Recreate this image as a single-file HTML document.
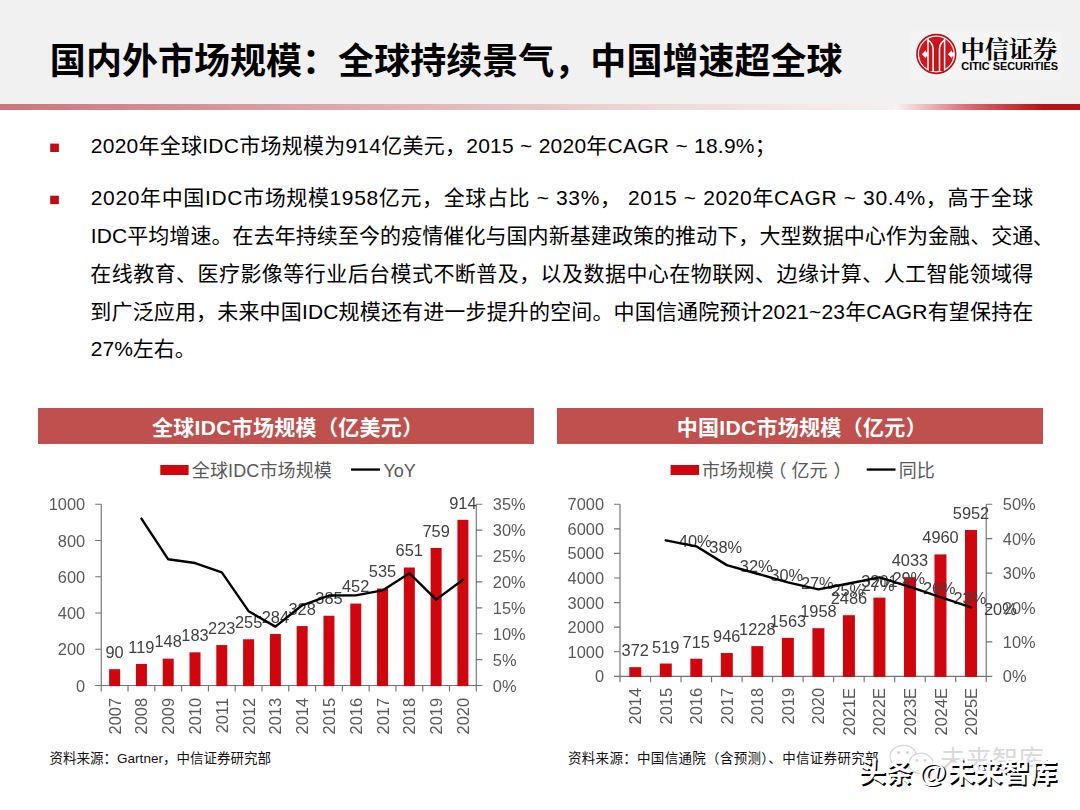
<!DOCTYPE html>
<html lang="zh"><head><meta charset="utf-8"><title>IDC</title><style>
html,body{margin:0;padding:0;background:#fff;overflow:hidden}
body{width:1080px;height:810px;font-family:"Liberation Sans",sans-serif}
#pg{position:relative;width:1080px;height:810px;overflow:hidden;background:#fff}
#hd{position:absolute;left:0;top:0;width:1080px;height:104px;background:#f2f1f1}
#ln1{position:absolute;left:0;top:104px;width:895px;height:6px;background:linear-gradient(90deg,#c9757b 0%,#d69a9d 27%,#e4bcbe 52%,#f0dcdc 77%,#f7f0f0 100%)}
#ln2{position:absolute;left:895px;top:104px;width:185px;height:6px;background:linear-gradient(90deg,#fbf3f3 0%,#d86a70 40%,#b81218 80%,#b81218 100%)}
svg{position:absolute;left:0;top:0}
svg text{font-family:"Liberation Sans","Noto Sans CJK SC",sans-serif}
#lb{position:absolute;left:0;top:0;width:1080px;height:810px;will-change:transform}
.t{position:absolute;white-space:nowrap;line-height:1.2;color:transparent;overflow:hidden;height:1.2em;max-width:940px}
.al,.ar,.dl,.ll,.xc{position:absolute;font-size:16.4px;line-height:20px;height:20px;white-space:nowrap;color:#595959}
.al{width:60px;text-align:right}
.ar{text-align:left}
.dl{width:60px;text-align:center;color:#404040}
.ll{text-align:left;color:#404040}
.xc{transform-origin:0 0;transform:rotate(-90deg) translate(-100%,-50%);text-align:right}
</style></head><body>
<div id="pg">
<div id="hd"></div><div id="ln1"></div><div id="ln2"></div>
<svg width="1080" height="810" viewBox="0 0 1080 810">
<text x="49.86" y="74.21" font-size="36" font-weight="bold" fill="#000" textLength="792.7" lengthAdjust="spacing">国内外市场规模：全球持续景气，中国增速超全球</text>
<text x="90.8" y="153.4" font-size="21" fill="#000" textLength="685" lengthAdjust="spacing">2020年全球IDC市场规模为914亿美元，2015 ~ 2020年CAGR ~ 18.9%；</text>
<text x="90.8" y="205.2" font-size="21" fill="#000" textLength="942.5" lengthAdjust="spacing">2020年中国IDC市场规模1958亿元，全球占比 ~ 33%， 2015 ~ 2020年CAGR ~ 30.4%，高于全球</text>
<text x="90.8" y="243.2" font-size="21" fill="#000" textLength="942.5" lengthAdjust="spacing">IDC平均增速。在去年持续至今的疫情催化与国内新基建政策的推动下，大型数据中心作为金融、交通</text>
<text x="1032.8" y="243.6" font-size="21" fill="#000">、</text>
<text x="90.33" y="281.4" font-size="21" fill="#000" textLength="943" lengthAdjust="spacing">在线教育、医疗影像等行业后台模式不断普及，以及数据中心在物联网、边缘计算、人工智能领域得</text>
<text x="90.33" y="319.1" font-size="21" fill="#000" textLength="943" lengthAdjust="spacing">到广泛应用，未来中国IDC规模还有进一步提升的空间。中国信通院预计2021~23年CAGR有望保持在</text>
<text x="90.8" y="356.4" font-size="21" fill="#000">27%左右。</text>
<rect x="50.2" y="143.6" width="8.7" height="8.4" fill="#c00d14"/>
<rect x="50.2" y="195.7" width="8.7" height="8.4" fill="#c00d14"/>
<rect x="38" y="408" width="496" height="36" fill="#c0504d"/>
<rect x="557" y="408" width="486" height="36" fill="#c0504d"/>
<text x="151.89" y="435.2" font-size="21" font-weight="bold" fill="#fff" textLength="271.3" lengthAdjust="spacing">全球IDC市场规模（亿美元）</text>
<text x="676.64" y="435.2" font-size="21" font-weight="bold" fill="#fff" textLength="250" lengthAdjust="spacing">中国IDC市场规模（亿元）</text>
<rect x="160.3" y="465" width="28.3" height="10" fill="#d0060f"/>
<text x="191.77" y="476.8" font-size="18" fill="#595959" textLength="140" lengthAdjust="spacing">全球IDC市场规模</text>
<rect x="351" y="468.4" width="29" height="2.3" fill="#000"/>
<text x="383.5" y="476.8" font-size="18" fill="#595959">YoY</text>
<rect x="670.6" y="465" width="28.5" height="10" fill="#d0060f"/>
<text x="701.77" y="476.8" font-size="18" fill="#595959" textLength="72" lengthAdjust="spacing">市场规模</text>
<text x="768.5" y="476.8" font-size="18" fill="#595959">（</text>
<text x="791.57" y="476.8" font-size="18" fill="#595959" textLength="36" lengthAdjust="spacing">亿元</text>
<text x="833.5" y="476.8" font-size="18" fill="#595959">）</text>
<rect x="866.7" y="468.4" width="28.8" height="2.3" fill="#000"/>
<text x="898.67" y="476.8" font-size="18" fill="#595959" textLength="36" lengthAdjust="spacing">同比</text>
<text x="49.6" y="763" font-size="13.5" fill="#111" textLength="221.3" lengthAdjust="spacing">资料来源：Gartner，中信证券研究部</text>
<text x="568" y="763" font-size="13.5" fill="#111" textLength="310.5" lengthAdjust="spacing">资料来源：中国信通院（含预测）、中信证券研究部</text>
<path d="M101.25 504.25V685.50M476.30 504.25V685.50M95.25 685.50H482.30M101.25 649.25h-6M101.25 613.00h-6M101.25 576.75h-6M101.25 540.50h-6M101.25 504.25h-6M476.30 659.61h6M476.30 633.71h6M476.30 607.82h6M476.30 581.93h6M476.30 556.04h6M476.30 530.14h6M476.30 504.25h6M101.25 685.50v6M128.04 685.50v6M154.83 685.50v6M181.62 685.50v6M208.41 685.50v6M235.20 685.50v6M261.99 685.50v6M288.77 685.50v6M315.56 685.50v6M342.35 685.50v6M369.14 685.50v6M395.93 685.50v6M422.72 685.50v6M449.51 685.50v6M476.30 685.50v6" stroke="#737373" stroke-width="1.15" fill="none"/>
<rect x="109.14" y="669.19" width="11.00" height="16.91" fill="#d0060f"/>
<rect x="135.93" y="663.93" width="11.00" height="22.17" fill="#d0060f"/>
<rect x="162.72" y="658.67" width="11.00" height="27.43" fill="#d0060f"/>
<rect x="189.51" y="652.33" width="11.00" height="33.77" fill="#d0060f"/>
<rect x="216.30" y="645.08" width="11.00" height="41.02" fill="#d0060f"/>
<rect x="243.09" y="639.28" width="11.00" height="46.82" fill="#d0060f"/>
<rect x="269.88" y="634.02" width="11.00" height="52.08" fill="#d0060f"/>
<rect x="296.67" y="626.05" width="11.00" height="60.05" fill="#d0060f"/>
<rect x="323.46" y="615.72" width="11.00" height="70.38" fill="#d0060f"/>
<rect x="350.25" y="603.58" width="11.00" height="82.52" fill="#d0060f"/>
<rect x="377.04" y="588.53" width="11.00" height="97.57" fill="#d0060f"/>
<rect x="403.83" y="567.51" width="11.00" height="118.59" fill="#d0060f"/>
<rect x="430.62" y="547.93" width="11.00" height="138.17" fill="#d0060f"/>
<rect x="457.41" y="519.84" width="11.00" height="166.26" fill="#d0060f"/>
<path d="M620.00 504.25V676.30M986.25 504.25V676.30M614.00 676.30H992.25M620.00 651.72h-6M620.00 627.14h-6M620.00 602.56h-6M620.00 577.99h-6M620.00 553.41h-6M620.00 528.83h-6M620.00 504.25h-6M986.25 641.89h6M986.25 607.48h6M986.25 573.07h6M986.25 538.66h6M986.25 504.25h6M620.00 676.30v6M650.52 676.30v6M681.04 676.30v6M711.56 676.30v6M742.08 676.30v6M772.60 676.30v6M803.12 676.30v6M833.65 676.30v6M864.17 676.30v6M894.69 676.30v6M925.21 676.30v6M955.73 676.30v6M986.25 676.30v6" stroke="#737373" stroke-width="1.15" fill="none"/>
<rect x="629.26" y="667.16" width="12.00" height="9.74" fill="#d0060f"/>
<rect x="659.78" y="663.54" width="12.00" height="13.36" fill="#d0060f"/>
<rect x="690.30" y="658.73" width="12.00" height="18.17" fill="#d0060f"/>
<rect x="720.82" y="653.05" width="12.00" height="23.85" fill="#d0060f"/>
<rect x="751.34" y="646.12" width="12.00" height="30.78" fill="#d0060f"/>
<rect x="781.86" y="637.88" width="12.00" height="39.02" fill="#d0060f"/>
<rect x="812.39" y="628.18" width="12.00" height="48.72" fill="#d0060f"/>
<rect x="842.91" y="615.20" width="12.00" height="61.70" fill="#d0060f"/>
<rect x="873.43" y="597.62" width="12.00" height="79.28" fill="#d0060f"/>
<rect x="903.95" y="577.17" width="12.00" height="99.73" fill="#d0060f"/>
<rect x="934.47" y="554.39" width="12.00" height="122.51" fill="#d0060f"/>
<rect x="964.99" y="530.01" width="12.00" height="146.89" fill="#d0060f"/>
<rect x="910.5" y="31.5" width="151" height="48" fill="#f5f4f4"/>
<circle cx="936.3" cy="54.0" r="19.5" fill="#d3161e" stroke="#a51217" stroke-width="1.3"/>
<circle cx="936.3" cy="54.0" r="17.9" fill="none" stroke="#ffecec" stroke-width="1.3"/>
<path d="M928.6 41.5H944V71H928.6Z" fill="#c3141b"/>
<path d="M928.0 38.2V70.2M944.6 38.2V70.2M933.1 48.5V71.4M939.5 48.5V71.4M927.8 39.8Q933 43 933.1 49.5M944.8 39.8Q939.6 43 939.5 49.5" stroke="#fff" stroke-width="1.5" fill="none"/>
<path d="M928.0 52.2H925.8V50.3L921.8 54.3L925.8 58.3V56.4H928.0Z" fill="#fff"/>
<path d="M954.4 52.2H951.8V50.3L947.8 54.3L951.8 58.3V56.4H954.4Z" fill="#fff"/>
<text x="960.46" y="58.38" font-size="24.2" font-weight="bold" fill="#000" textLength="96.8" lengthAdjust="spacing" style="font-family:'Liberation Serif','Noto Serif CJK SC',serif">中信证券</text>
<text x="961.3" y="70.4" font-size="10.8" font-weight="bold" fill="#000" textLength="96.6" lengthAdjust="spacingAndGlyphs">CITIC SECURITIES</text>
<g fill="#fff" stroke="#d6d6d6" stroke-width="1.2"><ellipse cx="903.3" cy="756.5" rx="13.3" ry="11.2"/><path d="M895.5 765.5L893 771L900 767.3Z" stroke-width="1"/><ellipse cx="921" cy="763.5" rx="12" ry="10.3"/><path d="M928 771.5L931 776L924 773.5Z" stroke-width="1"/></g>
<g fill="#d6d6d6"><circle cx="898.5" cy="752.5" r="1.6"/><circle cx="907.5" cy="752.5" r="1.6"/><circle cx="916.8" cy="760.5" r="1.4"/><circle cx="925" cy="760.5" r="1.4"/></g>
<text x="940" y="768.5" font-size="26" fill="#d9d9d9" textLength="104" lengthAdjust="spacing">未来智库</text>
<text x="860.3" y="783.7" font-size="27" font-weight="bold" fill="#000" textLength="54" lengthAdjust="spacing">头条</text>
<text x="858.8" y="782" font-size="27" font-weight="bold" fill="#fff" textLength="54" lengthAdjust="spacing">头条</text>
<text x="920.1" y="783.2" font-size="28.5" font-weight="bold" fill="#000">@</text>
<text x="918.6" y="781.5" font-size="28.5" font-weight="bold" fill="#fff">@</text>
<text x="949" y="783.7" font-size="27.4" font-weight="bold" fill="#000" textLength="109.6" lengthAdjust="spacing">未来智库</text>
<text x="947.5" y="782" font-size="27.4" font-weight="bold" fill="#fff" textLength="109.6" lengthAdjust="spacing">未来智库</text>
</svg>
<div id="tx">
<div class="t" style="left:51px;top:40px;font-size:36px;font-weight:bold;">国内外市场规模：全球持续景气，中国增速超全球</div>
<div class="t" style="left:961px;top:36px;font-size:20px;font-weight:bold;">中信证券 CITIC SECURITIES</div>
<div class="t" style="left:91px;top:134.4px;font-size:21px;">2020年全球IDC市场规模为914亿美元，2015 ~ 2020年CAGR ~ 18.9%；</div>
<div class="t" style="left:91px;top:186.2px;font-size:21px;">2020年中国IDC市场规模1958亿元，全球占比 ~ 33%，  2015 ~ 2020年CAGR ~ 30.4%，高于全球</div>
<div class="t" style="left:91px;top:224.2px;font-size:21px;">IDC平均增速。在去年持续至今的疫情催化与国内新基建政策的推动下，大型数据中心作为金融、交通、</div>
<div class="t" style="left:91px;top:262px;font-size:21px;">在线教育、医疗影像等行业后台模式不断普及，以及数据中心在物联网、边缘计算、人工智能领域得</div>
<div class="t" style="left:91px;top:299.9px;font-size:21px;">到广泛应用，未来中国IDC规模还有进一步提升的空间。中国信通院预计2021~23年CAGR有望保持在</div>
<div class="t" style="left:91px;top:337.4px;font-size:21px;">27%左右。</div>
<div class="t" style="left:153px;top:414px;font-size:21px;font-weight:bold;">全球IDC市场规模（亿美元）</div>
<div class="t" style="left:679px;top:414px;font-size:21px;font-weight:bold;">中国IDC市场规模（亿元）</div>
<div class="t" style="left:193px;top:461px;font-size:18px;">全球IDC市场规模</div>
<div class="t" style="left:384px;top:461px;font-size:18px;">YoY</div>
<div class="t" style="left:703px;top:461px;font-size:18px;">市场规模（亿元）</div>
<div class="t" style="left:900px;top:461px;font-size:18px;">同比</div>
<div class="t" style="left:50px;top:751px;font-size:13.5px;">资料来源：Gartner，中信证券研究部</div>
<div class="t" style="left:568px;top:751px;font-size:13.5px;">资料来源：中国信通院（含预测）、中信证券研究部</div>
<div class="t" style="left:861px;top:759px;font-size:27px;font-weight:bold;">头条 @未来智库</div>
</div>
<div id="lb">
<div class="al" style="left:25.2px;top:675.5px">0</div>
<div class="al" style="left:25.2px;top:639.2px">200</div>
<div class="al" style="left:25.2px;top:603.0px">400</div>
<div class="al" style="left:25.2px;top:566.8px">600</div>
<div class="al" style="left:25.2px;top:530.5px">800</div>
<div class="al" style="left:25.2px;top:494.2px">1000</div>
<div class="ar" style="left:492.8px;top:675.5px">0%</div>
<div class="ar" style="left:492.8px;top:649.6px">5%</div>
<div class="ar" style="left:492.8px;top:623.7px">10%</div>
<div class="ar" style="left:492.8px;top:597.8px">15%</div>
<div class="ar" style="left:492.8px;top:571.9px">20%</div>
<div class="ar" style="left:492.8px;top:546.0px">25%</div>
<div class="ar" style="left:492.8px;top:520.1px">30%</div>
<div class="ar" style="left:492.8px;top:494.2px">35%</div>
<div class="xc" style="left:114.6px;top:697.5px">2007</div>
<div class="xc" style="left:141.4px;top:697.5px">2008</div>
<div class="xc" style="left:168.2px;top:697.5px">2009</div>
<div class="xc" style="left:195.0px;top:697.5px">2010</div>
<div class="xc" style="left:221.8px;top:697.5px">2011</div>
<div class="xc" style="left:248.6px;top:697.5px">2012</div>
<div class="xc" style="left:275.4px;top:697.5px">2013</div>
<div class="xc" style="left:302.2px;top:697.5px">2014</div>
<div class="xc" style="left:329.0px;top:697.5px">2015</div>
<div class="xc" style="left:355.7px;top:697.5px">2016</div>
<div class="xc" style="left:382.5px;top:697.5px">2017</div>
<div class="xc" style="left:409.3px;top:697.5px">2018</div>
<div class="xc" style="left:436.1px;top:697.5px">2019</div>
<div class="xc" style="left:462.9px;top:697.5px">2020</div>
<div class="dl" style="left:84.6px;top:641.9px">90</div>
<div class="dl" style="left:111.4px;top:636.6px">119</div>
<div class="dl" style="left:138.2px;top:631.4px">148</div>
<div class="dl" style="left:165.0px;top:625.0px">183</div>
<div class="dl" style="left:191.8px;top:617.8px">223</div>
<div class="dl" style="left:218.6px;top:612.0px">255</div>
<div class="dl" style="left:245.4px;top:606.7px">284</div>
<div class="dl" style="left:272.2px;top:598.8px">328</div>
<div class="dl" style="left:299.0px;top:588.4px">385</div>
<div class="dl" style="left:325.7px;top:576.3px">452</div>
<div class="dl" style="left:352.5px;top:561.2px">535</div>
<div class="dl" style="left:379.3px;top:540.2px">651</div>
<div class="dl" style="left:406.1px;top:520.6px">759</div>
<div class="dl" style="left:432.9px;top:492.5px">914</div>
<div class="al" style="left:544.0px;top:666.3px">0</div>
<div class="al" style="left:544.0px;top:641.7px">1000</div>
<div class="al" style="left:544.0px;top:617.1px">2000</div>
<div class="al" style="left:544.0px;top:592.6px">3000</div>
<div class="al" style="left:544.0px;top:568.0px">4000</div>
<div class="al" style="left:544.0px;top:543.4px">5000</div>
<div class="al" style="left:544.0px;top:518.8px">6000</div>
<div class="al" style="left:544.0px;top:494.2px">7000</div>
<div class="ar" style="left:1002.8px;top:666.3px">0%</div>
<div class="ar" style="left:1002.8px;top:631.9px">10%</div>
<div class="ar" style="left:1002.8px;top:597.5px">20%</div>
<div class="ar" style="left:1002.8px;top:563.1px">30%</div>
<div class="ar" style="left:1002.8px;top:528.7px">40%</div>
<div class="ar" style="left:1002.8px;top:494.2px">50%</div>
<div class="xc" style="left:635.3px;top:688.3px">2014</div>
<div class="xc" style="left:665.8px;top:688.3px">2015</div>
<div class="xc" style="left:696.3px;top:688.3px">2016</div>
<div class="xc" style="left:726.8px;top:688.3px">2017</div>
<div class="xc" style="left:757.3px;top:688.3px">2018</div>
<div class="xc" style="left:787.9px;top:688.3px">2019</div>
<div class="xc" style="left:818.4px;top:688.3px">2020</div>
<div class="xc" style="left:848.9px;top:688.3px">2021E</div>
<div class="xc" style="left:879.4px;top:688.3px">2022E</div>
<div class="xc" style="left:909.9px;top:688.3px">2023E</div>
<div class="xc" style="left:940.5px;top:688.3px">2024E</div>
<div class="xc" style="left:971.0px;top:688.3px">2025E</div>
<div class="dl" style="left:605.3px;top:640.2px">372</div>
<div class="dl" style="left:635.8px;top:636.5px">519</div>
<div class="dl" style="left:666.3px;top:631.7px">715</div>
<div class="dl" style="left:696.8px;top:626.0px">946</div>
<div class="dl" style="left:727.3px;top:619.1px">1228</div>
<div class="dl" style="left:757.9px;top:610.9px">1563</div>
<div class="dl" style="left:788.4px;top:601.2px">1958</div>
<div class="dl" style="left:818.9px;top:588.2px">2486</div>
<div class="dl" style="left:849.4px;top:570.6px">3201</div>
<div class="dl" style="left:879.9px;top:550.2px">4033</div>
<div class="dl" style="left:910.5px;top:527.4px">4960</div>
<div class="dl" style="left:941.0px;top:503.0px">5952</div>
<div class="ll" style="left:678.8px;top:531.3px">40%</div>
<div class="ll" style="left:709.3px;top:537.4px">38%</div>
<div class="ll" style="left:739.8px;top:556.1px">32%</div>
<div class="ll" style="left:770.3px;top:564.7px">30%</div>
<div class="ll" style="left:800.9px;top:573.4px">27%</div>
<div class="ll" style="left:831.4px;top:580.3px">25%</div>
<div class="ll" style="left:861.9px;top:574.5px">27%</div>
<div class="ll" style="left:892.4px;top:568.3px">29%</div>
<div class="ll" style="left:922.9px;top:577.9px">26%</div>
<div class="ll" style="left:953.5px;top:588.2px">23%</div>
<div class="ll" style="left:984.0px;top:598.5px">20%</div>
</div>
<svg width="1080" height="810" viewBox="0 0 1080 810"><path d="M141.43 518.63L168.22 559.30L195.01 563.03L221.80 572.31L248.59 611.19L275.38 626.61L302.17 605.27L328.96 595.51L355.75 595.38L382.54 590.41L409.33 573.22L436.12 599.59L462.91 579.75" stroke="#000" stroke-width="2.4" fill="none" stroke-linejoin="round" stroke-linecap="round"/>
<path d="M665.78 540.32L696.30 546.35L726.82 565.13L757.34 573.72L787.86 582.43L818.39 589.34L848.91 583.51L879.43 577.33L909.95 586.86L940.47 597.21L970.99 607.48" stroke="#000" stroke-width="2.4" fill="none" stroke-linejoin="round" stroke-linecap="round"/></svg>
</div>
</body></html>
